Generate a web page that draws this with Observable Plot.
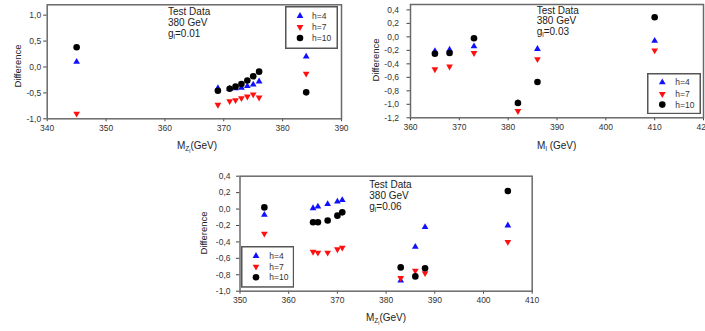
<!DOCTYPE html>
<html><head><meta charset="utf-8">
<script src="https://cdn.jsdelivr.net/npm/d3@7"></script>
<script src="https://cdn.jsdelivr.net/npm/@observablehq/plot@0.6"></script>
<style>
body{margin:0;background:#fff;font-family:"Liberation Sans",Arial,sans-serif;}
#root{position:relative;width:705px;height:331px;overflow:hidden;background:#fff;}
.panel{position:absolute;}
.ann{position:absolute;font-size:10px;line-height:10.8px;color:#222;white-space:nowrap;}
.xt{position:absolute;font-size:10px;color:#222;transform:translate(-50%,-50%);white-space:nowrap;}
.yt{position:absolute;font-size:9.5px;color:#222;transform:translate(-50%,-50%) rotate(-90deg);white-space:nowrap;}
.leg{position:absolute;}
sub{font-size:6.5px;vertical-align:-2px;}
sub sub{font-size:5px;vertical-align:-1.5px;}
</style></head><body><div id="root"></div>
<script>
// ---------- data ----------
const seriesNames = ["h=4", "h=7", "h=10"];

// panel 1 : g_l = 0.01
const p1Mass = [345, 369, 371, 372, 373, 374, 375, 376, 384];
const p1H4   = [0.10, -0.41, -0.42, -0.41, -0.40, -0.37, -0.34, -0.28, 0.20];
const p1H7   = [-0.90, -0.73, -0.66, -0.64, -0.60, -0.57, -0.53, -0.59, -0.13];
const p1H10  = [0.38, -0.46, -0.42, -0.38, -0.33, -0.26, -0.18, -0.09, -0.49];
const p1XTicks = [340, 350, 360, 370, 380, 390];
const p1YTicks = [-1.0, -0.5, 0.0, 0.5, 1.0];

// panel 2 : g_l = 0.03
const p2Mass = [365, 368, 373, 382, 386, 410];
const p2H4   = [-0.21, -0.19, -0.14, -0.98, -0.18, -0.06];
const p2H7   = [-0.48, -0.44, -0.24, -1.10, -0.33, -0.20];
const p2H10  = [-0.25, -0.24, -0.02, -0.98, -0.67, 0.29];
const p2XTicks = [360, 370, 380, 390, 400, 410, 420];
const p2YTicks = [-1.2, -1.0, -0.8, -0.6, -0.4, -0.2, 0.0, 0.2, 0.4];

// panel 3 : g_l = 0.06
const p3Mass = [355, 365, 366, 368, 370, 371, 383, 386, 388, 405];
const p3H4   = [-0.07, 0.01, 0.03, 0.06, 0.09, 0.11, -0.87, -0.46, -0.22, -0.20];
const p3H7   = [-0.30, -0.52, -0.53, -0.53, -0.49, -0.47, -0.84, -0.75, -0.78, -0.40];
const p3H10  = [0.02, -0.16, -0.16, -0.14, -0.08, -0.04, -0.71, -0.82, -0.72, 0.22];
const p3XTicks = [350, 360, 370, 380, 390, 400, 410];
const p3YTicks = [-1.0, -0.8, -0.6, -0.4, -0.2, 0.0, 0.2, 0.4];

const annTitle = "Test Data";
const annEnergy = "380 GeV";
const couplings = ["0.01", "0.03", "0.06"];

// ---------- drawing ----------
const root = document.getElementById("root");
const BLUE = "#1010ff", RED = "#ff1010", BLACK = "#000";
const TRI_R = 2.5, CIR_R = 3.3;
const fmt = d => (d < 0 ? "-" : "") + Math.abs(d).toFixed(1).replace(".", ",");

function makePanel(o) {
  const data = o.mass.map((m, i) => ({m, h4: o.h4[i], h7: o.h7[i], h10: o.h10[i]}));
  const svg = Plot.plot({
    width: o.width, height: o.height,
    marginLeft: o.ml, marginRight: o.mr, marginTop: o.mt, marginBottom: o.mb,
    style: {fontFamily: "Liberation Sans, Arial, sans-serif", fontSize: "8.5px", color: "#333", background: "transparent", overflow: "visible"},
    x: {domain: o.xDomain},
    y: {domain: o.yDomain},
    marks: [
      Plot.axisX({ticks: o.xTicks, tickSize: 3, tickPadding: 3, tickFormat: d => String(d), label: null, stroke: "#444"}),
      Plot.axisY({ticks: o.yTicks, tickSize: 3.5, tickPadding: o.ypad, tickFormat: fmt, label: null, stroke: "#444"}),
      Plot.frame({stroke: "#6a6a6a", strokeWidth: 1.5}),
      Plot.dot(data, {x: "m", y: "h4", symbol: "triangle", r: TRI_R, fill: BLUE, stroke: "none"}),
      Plot.dot(data, {x: "m", y: "h7", symbol: "triangle", rotate: 180, r: TRI_R, fill: RED, stroke: "none"}),
      Plot.dot(data, {x: "m", y: "h10", r: CIR_R, fill: BLACK, stroke: "none"})
    ]
  });
  svg.classList.add("panel");
  svg.style.left = o.left + "px";
  svg.style.top = o.top + "px";
  root.appendChild(svg);

  // annotation
  const ann = document.createElement("div");
  ann.className = "ann";
  ann.style.left = o.ann[0] + "px";
  ann.style.top = o.ann[1] + "px";
  ann.innerHTML = `${annTitle}<br>${annEnergy}<br>g<sub>l</sub>=${o.coupling}`;
  root.appendChild(ann);

  // axis titles
  const xt = document.createElement("div");
  xt.className = "xt";
  xt.style.left = o.xt[0] + "px";
  xt.style.top = o.xt[1] + "px";
  xt.innerHTML = o.xLabel;
  root.appendChild(xt);
  const yt = document.createElement("div");
  yt.className = "yt";
  yt.style.left = o.yt[0] + "px";
  yt.style.top = o.yt[1] + "px";
  yt.textContent = "Difference";
  root.appendChild(yt);

  // legend
  const [lx, ly, lw, lh] = o.leg;
  const ns = "http://www.w3.org/2000/svg";
  const lg = document.createElementNS(ns, "svg");
  lg.setAttribute("width", lw); lg.setAttribute("height", lh);
  lg.setAttribute("class", "leg");
  lg.style.left = lx + "px"; lg.style.top = ly + "px";
  const rect = document.createElementNS(ns, "rect");
  rect.setAttribute("x", 0.75); rect.setAttribute("y", 0.75);
  rect.setAttribute("width", lw - 1.5); rect.setAttribute("height", lh - 1.5);
  rect.setAttribute("fill", "#fff"); rect.setAttribute("stroke", "#555"); rect.setAttribute("stroke-width", 1.5);
  lg.appendChild(rect);
  const syms = [
    {p: d3.symbol(d3.symbolTriangle, Math.PI * TRI_R * TRI_R)(), f: BLUE, rot: 0},
    {p: d3.symbol(d3.symbolTriangle, Math.PI * TRI_R * TRI_R)(), f: RED, rot: 180},
    {p: d3.symbol(d3.symbolCircle, Math.PI * CIR_R * CIR_R)(), f: BLACK, rot: 0}
  ];
  seriesNames.forEach((name, i) => {
    const cy = o.legRows[i];
    const path = document.createElementNS(ns, "path");
    path.setAttribute("d", syms[i].p);
    path.setAttribute("fill", syms[i].f);
    path.setAttribute("transform", `translate(${o.legSymX},${cy}) rotate(${syms[i].rot})`);
    lg.appendChild(path);
    const t = document.createElementNS(ns, "text");
    t.setAttribute("x", o.legTextX); t.setAttribute("y", cy);
    t.setAttribute("dy", "0.35em");
    t.setAttribute("font-size", "8.5px");
    t.setAttribute("font-family", "Liberation Sans, Arial, sans-serif");
    t.setAttribute("fill", "#333");
    t.textContent = name;
    lg.appendChild(t);
  });
  root.appendChild(lg);
}

makePanel({
  mass: p1Mass, h4: p1H4, h7: p1H7, h10: p1H10,
  xDomain: [340, 390], yDomain: [-1.0, 1.2], xTicks: p1XTicks, yTicks: p1YTicks,
  left: 0, top: 0, width: 350, height: 160, ml: 46.7, mr: 9, mt: 4.3, mb: 41.7, ypad: 2.5,
  ann: [168, 7], coupling: couplings[0],
  xt: [197, 147], xLabel: "M<sub>Z<sub>l</sub></sub>(GeV)",
  yt: [16.5, 66],
  leg: [285, 6, 53, 43], legRows: [10, 21, 32], legSymX: 15, legTextX: 27
});

makePanel({
  mass: p2Mass, h4: p2H4, h7: p2H7, h10: p2H10,
  xDomain: [360, 420], yDomain: [-1.2, 0.48], xTicks: p2XTicks, yTicks: p2YTicks,
  left: 355, top: 0, width: 350, height: 160, ml: 55, mr: 2, mt: 4, mb: 42.7, ypad: 8,
  ann: [536.7, 5.5], coupling: couplings[1],
  xt: [556.7, 145.7], xLabel: "M<sub>l</sub> (GeV)",
  yt: [375, 60],
  leg: [646.7, 72.7, 54, 41.3], legRows: [9.3, 21, 31.6], legSymX: 15.3, legTextX: 28.3
});

makePanel({
  mass: p3Mass, h4: p3H4, h7: p3H7, h10: p3H10,
  xDomain: [350, 410], yDomain: [-1.0, 0.4], xTicks: p3XTicks, yTicks: p3YTicks,
  left: 190, top: 160, width: 350, height: 171, ml: 49.5, mr: 8.3, mt: 15.7, mb: 40.3, ypad: 6,
  ann: [369.3, 180.2], coupling: couplings[2],
  xt: [386, 319.3], xLabel: "M<sub>Z<sub>l</sub></sub>(GeV)",
  yt: [203.3, 232.5],
  leg: [241, 246, 53.3, 41.7], legRows: [10, 20.7, 31.3], legSymX: 15, legTextX: 28.3
});
</script>
</body></html>
